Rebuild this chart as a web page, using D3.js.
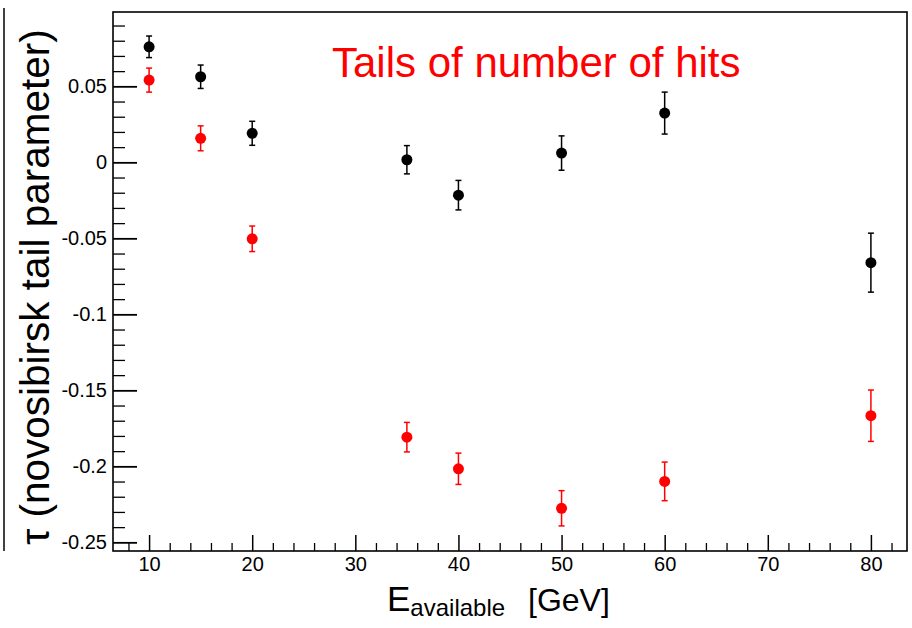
<!DOCTYPE html>
<html>
<head>
<meta charset="utf-8">
<script src="https://cdn.jsdelivr.net/npm/d3@7"></script>
<style>
  body { margin: 0; background: #fff; }
  text { font-family: "Liberation Sans", Arial, Helvetica, sans-serif; }
</style>
</head>
<body>
<div id="chart"></div>
<script>
// measured values (E available in GeV)
var energy = [10, 15, 20, 35, 40, 50, 60, 80];
var tauBlack = [0.076, 0.0563, 0.0191, 0.0017, -0.0216, 0.0061, 0.0324, -0.066];
var errBlack = [0.0071, 0.0077, 0.0079, 0.0093, 0.0097, 0.0113, 0.0138, 0.0194];
var tauRed = [0.0541, 0.0158, -0.0503, -0.1808, -0.2016, -0.2276, -0.2099, -0.1667];
var errRed = [0.0079, 0.0082, 0.0084, 0.0097, 0.0103, 0.0116, 0.0127, 0.0169];

var xTicks = [10, 20, 30, 40, 50, 60, 70, 80];
var yTicks = [0.05, 0, -0.05, -0.1, -0.15, -0.2, -0.25];
var yTickLabels = ["0.05", "0", "-0.05", "-0.1", "-0.15", "-0.2", "-0.25"];

var width = 912, height = 628;
var frame = { left: 113, right: 907, top: 12, bottom: 551 };

var svg = d3.select("#chart").append("svg")
    .attr("width", width)
    .attr("height", height);

var x = d3.scaleLinear().domain([6.5, 83.5]).range([frame.left, frame.right]);
var y = d3.scaleLinear().domain([-0.2557, 0.0989]).range([frame.bottom, frame.top]);

// stray pad edge on the left
svg.append("line")
    .attr("x1", 4).attr("x2", 4)
    .attr("y1", 8).attr("y2", frame.bottom)
    .attr("stroke", "#000").attr("stroke-width", 1.5);

// minor ticks
var xMinor = d3.range(8, 83, 2).filter(function (v) { return v % 10 !== 0; });
var yMinor = d3.range(-25, 10, 1).filter(function (v) { return v % 5 !== 0; })
    .map(function (v) { return v / 100; });

svg.append("g")
    .attr("transform", "translate(0," + frame.bottom + ")")
    .call(d3.axisBottom(x).tickValues(xMinor).tickSize(-8).tickFormat(""))
    .call(function (g) { g.select(".domain").remove(); })
    .selectAll("line").attr("stroke-width", 1.3);

svg.append("g")
    .attr("transform", "translate(" + frame.left + ",0)")
    .call(d3.axisLeft(y).tickValues(yMinor).tickSize(-12).tickFormat(""))
    .call(function (g) { g.select(".domain").remove(); })
    .selectAll("line").attr("stroke-width", 1.3);

// major ticks and labels
var xAxis = svg.append("g")
    .attr("transform", "translate(0," + frame.bottom + ")")
    .call(d3.axisBottom(x).tickValues(xTicks).tickSize(-16).tickPadding(5.5).tickFormat(d3.format("d")));
xAxis.select(".domain").remove();
xAxis.selectAll("line").attr("stroke-width", 1.5);
xAxis.selectAll("text").attr("font-size", 20).attr("fill", "#000")
    .style("font-family", "'Liberation Sans', Arial, sans-serif");

var yAxis = svg.append("g")
    .attr("transform", "translate(" + frame.left + ",0)")
    .call(d3.axisLeft(y).tickValues(yTicks).tickSize(-24).tickPadding(6)
        .tickFormat(function (d, i) { return yTickLabels[i]; }));
yAxis.select(".domain").remove();
yAxis.selectAll("line").attr("stroke-width", 1.8);
yAxis.selectAll("text").attr("font-size", 20).attr("fill", "#000")
    .style("font-family", "'Liberation Sans', Arial, sans-serif");

// frame
svg.append("rect")
    .attr("x", frame.left).attr("y", frame.top)
    .attr("width", frame.right - frame.left)
    .attr("height", frame.bottom - frame.top)
    .attr("fill", "none").attr("stroke", "#000").attr("stroke-width", 1.6);

// data series
function drawSeries(vals, errs, color) {
    var pts = energy.map(function (e, i) { return { e: e, v: vals[i], err: errs[i] }; });
    var g = svg.append("g");
    var bars = g.selectAll("g.pt").data(pts).enter().append("g").attr("class", "pt");

    bars.append("line")
        .attr("x1", function (d) { return x(d.e); })
        .attr("x2", function (d) { return x(d.e); })
        .attr("y1", function (d) { return y(d.v - d.err); })
        .attr("y2", function (d) { return y(d.v + d.err); })
        .attr("stroke", color).attr("stroke-width", 1.5);

    [-1, 1].forEach(function (s) {
        bars.append("line")
            .attr("x1", function (d) { return x(d.e) - 3; })
            .attr("x2", function (d) { return x(d.e) + 3; })
            .attr("y1", function (d) { return y(d.v + s * d.err); })
            .attr("y2", function (d) { return y(d.v + s * d.err); })
            .attr("stroke", color).attr("stroke-width", 1.5);
    });

    bars.append("circle")
        .attr("cx", function (d) { return x(d.e); })
        .attr("cy", function (d) { return y(d.v); })
        .attr("r", 5.5)
        .attr("fill", color);
}

drawSeries(tauBlack, errBlack, "#000");
drawSeries(tauRed, errRed, "#ff0000");

// title
svg.append("text")
    .attr("x", 332).attr("y", 77)
    .attr("font-size", 42)
    .attr("fill", "#ff0000")
    .text("Tails of number of hits");

// y axis title
svg.append("text")
    .attr("transform", "translate(49,287) rotate(-90)")
    .attr("text-anchor", "middle")
    .attr("font-size", 40.5)
    .text("\u03c4 (novosibirsk tail parameter)");

// x axis title
var xt = svg.append("text")
    .attr("x", 387).attr("y", 611)
    .attr("font-size", 35);
xt.append("tspan").text("E");
xt.append("tspan").attr("font-size", 24).attr("dy", 5).text("available");
xt.append("tspan").attr("x", 528).attr("dy", -5).attr("font-size", 32).text("[GeV]");
</script>
</body>
</html>
